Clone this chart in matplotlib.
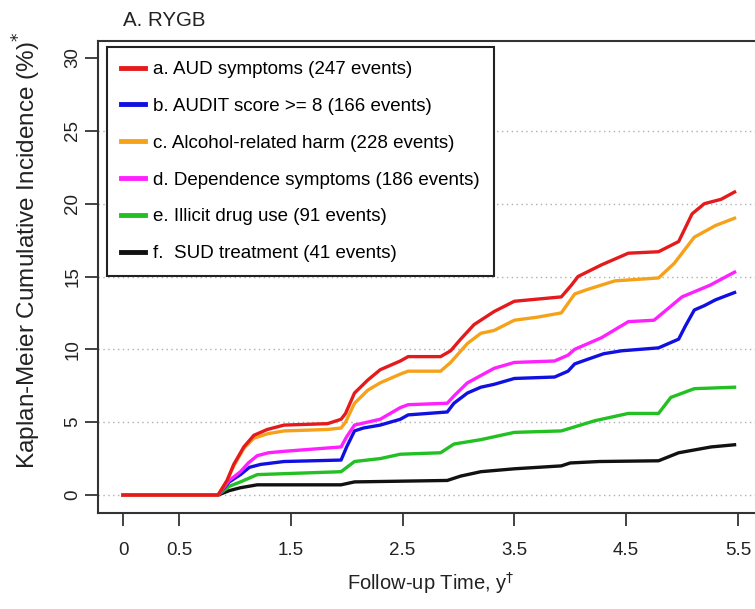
import matplotlib
matplotlib.use("Agg")
import matplotlib.pyplot as plt

plt.rcParams['font.family'] = ['Liberation Sans', 'DejaVu Sans']

# ---- data ----
labels = ["a. AUD symptoms (247 events)",
          "b. AUDIT score >= 8 (166 events)",
          "c. Alcohol-related harm (228 events)",
          "d. Dependence symptoms (186 events)",
          "e. Illicit drug use (91 events)",
          "f.  SUD treatment (41 events)"]
colors = ["#e41a1c", "#1010e0", "#f5a21a", "#ff20ff", "#22c022", "#111111"]

t_aud = [0, 0.85, 0.93, 0.99, 1.08, 1.17, 1.29, 1.44, 1.83, 1.95, 1.99, 2.07, 2.19, 2.3,
         2.48, 2.55, 2.84, 2.93, 3.02, 3.14, 3.32, 3.5, 3.92, 4.01, 4.07, 4.28, 4.52, 4.79,
         4.97, 5.09, 5.2, 5.35, 5.47]
v_aud = [0, 0, 1.0, 2.1, 3.3, 4.1, 4.5, 4.8, 4.9, 5.2, 5.6, 7.0, 7.9, 8.6,
         9.2, 9.5, 9.5, 9.9, 10.7, 11.7, 12.6, 13.3, 13.6, 14.4, 15.0, 15.8, 16.6, 16.7,
         17.4, 19.3, 20.0, 20.3, 20.8]

t_audit = [0, 0.85, 0.95, 1.05, 1.13, 1.23, 1.44, 1.95, 2.0, 2.07, 2.15, 2.3, 2.48, 2.55,
           2.9, 2.96, 3.08, 3.2, 3.32, 3.5, 3.86, 3.98, 4.04, 4.15, 4.3, 4.46, 4.79, 4.97,
           5.03, 5.11, 5.2, 5.3, 5.47]
v_audit = [0, 0, 0.9, 1.4, 1.9, 2.1, 2.3, 2.4, 3.3, 4.4, 4.6, 4.8, 5.2, 5.5,
           5.7, 6.3, 7.0, 7.4, 7.6, 8.0, 8.1, 8.5, 9.0, 9.3, 9.7, 9.9, 10.1, 10.7,
           11.6, 12.7, 13.0, 13.4, 13.9]

t_harm = [0, 0.85, 0.93, 0.99, 1.08, 1.17, 1.29, 1.44, 1.83, 1.95, 1.99, 2.07, 2.19, 2.3,
          2.48, 2.55, 2.84, 2.93, 3.08, 3.2, 3.32, 3.5, 3.7, 3.92, 4.04, 4.15, 4.4, 4.79,
          4.93, 5.11, 5.3, 5.47]
v_harm = [0, 0, 1.0, 2.0, 3.2, 3.9, 4.2, 4.4, 4.5, 4.6, 5.0, 6.3, 7.2, 7.7,
          8.3, 8.5, 8.5, 9.1, 10.4, 11.1, 11.3, 12.0, 12.2, 12.5, 13.8, 14.1, 14.7, 14.9,
          15.9, 17.7, 18.5, 19.0]

t_dep = [0, 0.85, 0.95, 1.05, 1.12, 1.2, 1.3, 1.44, 1.95, 2.0, 2.07, 2.3, 2.48, 2.55,
         2.9, 2.96, 3.08, 3.32, 3.5, 3.86, 3.98, 4.04, 4.28, 4.52, 4.75, 5.0, 5.25, 5.47]
v_dep = [0, 0, 1.0, 1.6, 2.2, 2.7, 2.9, 3.0, 3.3, 4.0, 4.8, 5.2, 6.0, 6.2,
         6.3, 6.8, 7.7, 8.7, 9.1, 9.2, 9.6, 10.0, 10.8, 11.9, 12.0, 13.6, 14.4, 15.3]

t_drug = [0, 0.85, 0.95, 1.05, 1.2, 1.95, 2.07, 2.3, 2.48, 2.84, 2.96, 3.2, 3.5, 3.92,
          4.22, 4.52, 4.79, 4.9, 5.11, 5.47]
v_drug = [0, 0, 0.6, 0.9, 1.4, 1.6, 2.3, 2.5, 2.8, 2.9, 3.5, 3.8, 4.3, 4.4,
          5.1, 5.6, 5.6, 6.7, 7.3, 7.4]

t_sud = [0, 0.85, 0.95, 1.05, 1.2, 1.95, 2.07, 2.9, 3.02, 3.2, 3.5, 3.92, 4.0, 4.26,
         4.79, 4.97, 5.26, 5.47]
v_sud = [0, 0, 0.3, 0.5, 0.7, 0.7, 0.9, 1.0, 1.3, 1.6, 1.8, 2.0, 2.2, 2.3,
         2.35, 2.9, 3.3, 3.45]

series_t = [t_aud, t_audit, t_harm, t_dep, t_drug, t_sud]
series_v = [v_aud, v_audit, v_harm, v_dep, v_drug, v_sud]

x_ticks = [0, 0.5, 1.5, 2.5, 3.5, 4.5, 5.5]
x_ticklabels = ["0", "0.5", "1.5", "2.5", "3.5", "4.5", "5.5"]
y_ticks = [0, 5, 10, 15, 20, 25, 30]
grid_levels = [0, 5, 10, 15, 20, 25]

# ---- figure ----
W, H = 755, 609
fig = plt.figure(figsize=(W / 100, H / 100), dpi=100)
ax = fig.add_axes([98.5 / W, (H - 512.5) / H, (762.5 - 98.5) / W, (512.5 - 40.5) / H])
ax.set_xlim(-0.22, 5.72)
ax.set_ylim(-1.2, 31.2)

for g in grid_levels:
    ax.axhline(g, color="#b0b0b0", linestyle=(0, (1, 2.5)), linewidth=1.0, zorder=1)

order = [5, 4, 1, 3, 2, 0]
handles = [None] * 6
for i in order:
    ln, = ax.plot(series_t[i], series_v[i], color=colors[i], linewidth=2.4,
                  solid_joinstyle="round", label=labels[i], zorder=3)
    handles[i] = ln

ax.set_xticks(x_ticks)
ax.set_xticklabels(x_ticklabels)
ax.set_yticks(y_ticks)
ax.set_yticklabels([str(y) for y in y_ticks], rotation=90, va="center")
ax.tick_params(axis="both", direction="out", length=9.4, width=1.2, labelsize=13.5,
               colors="#222222")
ax.tick_params(axis="y", pad=3)
ax.tick_params(axis="x", pad=12)

for s in ax.spines.values():
    s.set_linewidth(1.5)
    s.set_color("#333333")

ax.set_xlabel("Follow-up Time, y$^{\\dagger}$", fontsize=14.5, color="#222222", labelpad=8)
fig.text(27 / W, 1 - 250 / H, "Kaplan-Meier Cumulative Incidence (%)$^{*}$",
         fontsize=17.5, color="#222222", rotation=90, ha="center", va="center")

fig.text(123 / W, 1 - 20 / H, "A. RYGB", fontsize=14.8, color="#222222",
         ha="left", va="center")

fs_leg = 13.5
leg = ax.legend(handles=handles, loc="upper left",
                bbox_to_anchor=((107 - 98.5) / (762.5 - 98.5), 1 - (47 - 40.5) / 472),
                fontsize=fs_leg, frameon=True, fancybox=False, edgecolor="#222222",
                framealpha=1, handlelength=1.3, handletextpad=0.4, labelspacing=1.05,
                borderpad=0.75, borderaxespad=0)
leg.get_frame().set_linewidth(1.5)
for lh in leg.get_lines():
    lh.set_linewidth(3.5)
leg.set_zorder(5)

fig.savefig("out.png", dpi=100)
